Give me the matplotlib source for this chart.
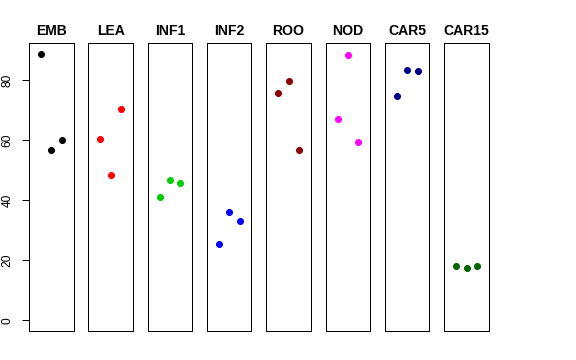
import matplotlib
matplotlib.use("Agg")
import matplotlib.pyplot as plt

categories = ["EMB", "LEA", "INF1", "INF2", "ROO", "NOD", "CAR5", "CAR15"]
colors = ["#000000", "#FF0000", "#00CD00", "#0000FF", "#8B0000", "#FF00FF", "#00008B", "#006400"]
values = {
    "EMB":   [88.9, 56.8, 60.1],
    "LEA":   [60.4, 48.3, 70.5],
    "INF1":  [41.2, 46.7, 45.9],
    "INF2":  [25.5, 36.2, 33.1],
    "ROO":   [75.8, 79.7, 56.7],
    "NOD":   [67.0, 88.5, 59.5],
    "CAR5":  [74.7, 83.4, 83.0],
    "CAR15": [18.0, 17.3, 18.0],
}
replicates = [1, 2, 3]
yticks = [0, 20, 40, 60, 80]

plt.rcParams['font.family'] = ['Liberation Sans', 'DejaVu Sans']
W, H = 576, 360
fig = plt.figure(figsize=(W / 72, H / 72), dpi=72)

ymax = max(max(v) for v in values.values())
ypad = 0.04 * ymax
left0, step, pw = 29.0, 59.33, 44.5
top, bottom = 43.0, 331.0

for i, (cat, col) in enumerate(zip(categories, colors)):
    x0 = left0 + step * i
    ax = fig.add_axes([x0 / W, 1 - bottom / H, pw / W, (bottom - top) / H])
    ax.plot(replicates, values[cat], 'o', color=col, ms=6, mec=col)
    ax.set_xlim(-0.16, 4.16)
    ax.set_ylim(-ypad, ymax + ypad)
    ax.set_xticks([])
    for s in ax.spines.values():
        s.set_linewidth(1.0)
        s.set_color("black")
    ax.set_title(cat, fontsize=14, fontweight='bold', pad=8)
    if i == 0:
        ax.set_yticks(yticks)
        ax.set_yticklabels([str(t) for t in yticks], rotation=90, va='center', fontsize=12)
        ax.tick_params(axis='y', length=7.5, width=1, pad=8)
    else:
        ax.set_yticks([])

fig.savefig("out.png", dpi=72)
